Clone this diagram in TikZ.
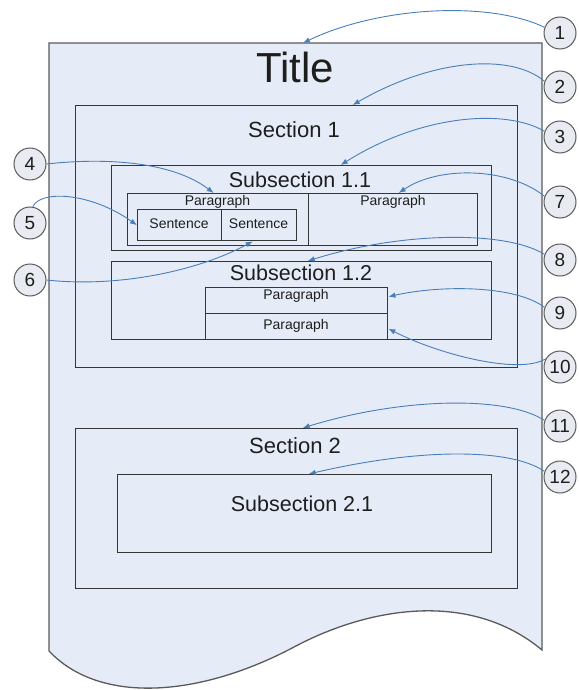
\documentclass[tikz,border=0pt]{standalone}
\usepackage{fontspec}
\setmainfont{Liberation Sans}
\usetikzlibrary{arrows.meta,calc}
\definecolor{pagefill}{HTML}{E6ECF7}
\definecolor{pageline}{HTML}{5A5A5A}
\definecolor{boxline}{HTML}{363636}
\definecolor{arrblue}{HTML}{4A7EBB}
\definecolor{circfill}{HTML}{E8EBF1}
\definecolor{txt}{HTML}{1E1E1E}
\begin{document}
\begin{tikzpicture}[x=1pt,y=-1pt,
  box/.style={draw=boxline, line width=1.4pt, inner sep=0pt, anchor=north west},
  lbl/.style={anchor=base, text=txt, inner sep=0pt},
  big/.style={lbl, font=\fontsize{42}{48}\selectfont},
  sect/.style={lbl, font=\fontsize{22}{26}\selectfont},
  subs/.style={lbl, font=\fontsize{21.5}{25}\selectfont},
  small/.style={lbl, font=\fontsize{14}{16}\selectfont},
  num/.style={circle, draw=pageline, line width=1pt, fill=circfill, minimum size=32pt, inner sep=0pt, text=txt, font=\fontsize{19}{19}\selectfont},
  arr/.style={draw=arrblue, line width=0.9pt, -{Latex[length=7pt,width=5.5pt]}}]
\useasboundingbox (0,0) rectangle (578,690);
% page
\path[fill=pagefill, draw=pageline, line width=1.3pt]
  (49,651) -- (49,43) -- (542,43) -- (542,650)
  .. controls (470,590) and (369,607) .. (294,647)
  .. controls (200,697) and (100,705) .. (49,651) -- cycle;
\coordinate (pagetop) at (303,43);
% boxes
\node[box, minimum width=442pt, minimum height=262pt] (sec1) at (75,105) {};
\node[box, minimum width=380pt, minimum height=85pt] (sub11) at (111,165) {};
\node[box, minimum width=181pt, minimum height=52pt] (par11a) at (127,193) {};
\node[box, minimum width=169pt, minimum height=52pt] (par11b) at (308,193) {};
\node[box, minimum width=84pt, minimum height=31pt] (sent1) at (137,209) {};
\node[box, minimum width=75pt, minimum height=31pt] (sent2) at (221,209) {};
\node[box, minimum width=380pt, minimum height=78pt] (sub12) at (111,261) {};
\node[box, minimum width=182pt, minimum height=26pt] (par12a) at (205,287) {};
\node[box, minimum width=182pt, minimum height=26pt] (par12b) at (205,313) {};
\node[box, minimum width=442pt, minimum height=160pt] (sec2) at (75,428) {};
\node[box, minimum width=374pt, minimum height=78pt] (sub21) at (117,474) {};
% labels
\node[big] (tTitle) at (295,83) {Title};
\node[sect] (tSec1) at (294,137) {Section 1};
\node[subs] (tSub11) at (300,187) {Subsection 1.1};
\node[small] (tPar1) at (217.5,205) {Paragraph};
\node[small] (tPar2) at (393,205) {Paragraph};
\node[small] (tSen1) at (179,228) {Sentence};
\node[small] (tSen2) at (258.5,228) {Sentence};
\node[subs] (tSub12) at (301,280.5) {Subsection 1.2};
\node[small] (tPar3) at (296,299) {Paragraph};
\node[small] (tPar4) at (296,329) {Paragraph};
\node[sect] (tSec2) at (295,453) {Section 2};
\node[subs] (tSub21) at (302,511) {Subsection 2.1};
% circles
\node[num] (c1) at (560,33) {1};
\node[num] (c2) at (560,87) {2};
\node[num] (c3) at (560,137) {3};
\node[num] (c4) at (30,164) {4};
\node[num] (c5) at (30,223) {5};
\node[num] (c6) at (30,280) {6};
\node[num] (c7) at (560,202) {7};
\node[num] (c8) at (560,260) {8};
\node[num] (c9) at (560,313) {9};
\node[num] (c10) at (560,367) {10};
\node[num] (c11) at (560,426) {11};
\node[num] (c12) at (560,477) {12};
% arrows
\draw[arr] (c1.160) .. controls (490,1) and (380,6) .. (pagetop);
\draw[arr] (c2.160) .. controls (510,52) and (430,60) .. ([xshift=56pt]sec1.north);
\draw[arr] (c3.160) .. controls (505,108) and (420,115) .. ([xshift=39pt]sub11.north);
\draw[arr] (c4.east) .. controls (100,158) and (170,160) .. ([xshift=-4.5pt]par11a.north);
\draw[arr] (c5.80) .. controls (40,190) and (90,192) .. (sent1.west);
\draw[arr] (c6.east) .. controls (120,288) and (200,270) .. ([xshift=-6.5pt]sent2.south);
\draw[arr] (c7.160) .. controls (510,168) and (440,165) .. ([xshift=5.5pt]par11b.north);
\draw[arr] (c8.160) .. controls (505,230) and (400,232) .. ([xshift=6pt]sub12.north);
\draw[arr] (c9.160) .. controls (515,285) and (440,285) .. ([yshift=4pt]par12a.east);
\draw[arr] (c10.150) .. controls (520,375) and (440,355) .. ([yshift=-2pt]par12b.east);
\draw[arr] (c11.160) .. controls (505,395) and (400,398) .. ([xshift=6pt]sec2.north);
\draw[arr] (c12.160) .. controls (510,448) and (420,448) .. ([xshift=4pt]sub21.north);
\end{tikzpicture}
\end{document}
